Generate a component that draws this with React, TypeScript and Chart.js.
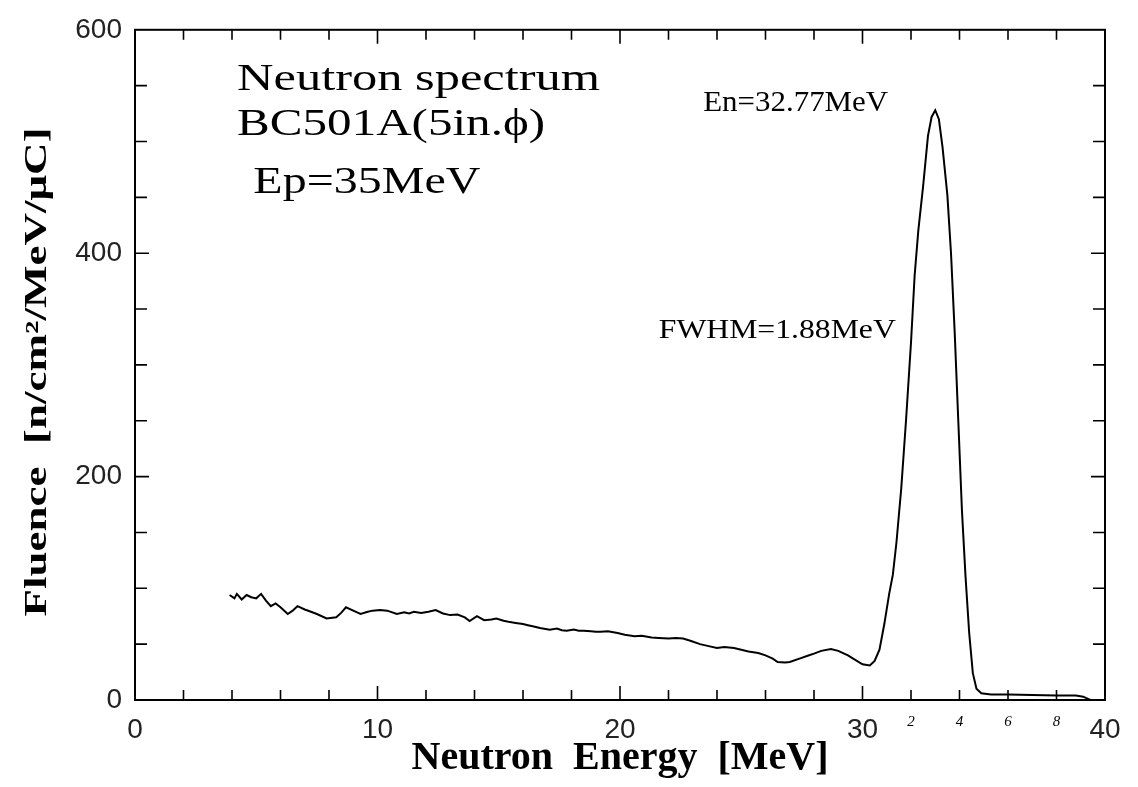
import React, { useEffect, useRef } from 'react';
import { Chart, registerables } from 'chart.js';

Chart.register(...registerables);

// ---- data ----
const energy = [
  3.9, 4.1, 4.2, 4.4, 4.6, 4.8, 5.0, 5.2, 5.4, 5.6, 5.8, 6.0, 6.3, 6.5, 6.7, 7.0, 7.2, 7.5, 7.9, 8.3,
  8.5, 8.7, 9.0, 9.3, 9.6, 9.8, 10.1, 10.4, 10.8, 11.1, 11.3, 11.5, 11.8, 12.1, 12.4, 12.7, 13.0, 13.3, 13.6, 13.8,
  14.1, 14.4, 14.7, 14.9, 15.2, 15.4, 15.7, 16.0, 16.2, 16.4, 16.7, 17.1, 17.4, 17.6, 17.8, 18.1, 18.3, 18.5, 18.8, 19.0,
  19.2, 19.5, 19.9, 20.2, 20.6, 20.9, 21.3, 21.6, 22.0, 22.3, 22.6, 22.9, 23.3, 23.7, 24.0, 24.3, 24.7, 25.0, 25.3, 25.7,
  26.0, 26.3, 26.5, 26.8, 27.0, 27.4, 27.8, 28.0, 28.3, 28.7, 29.0, 29.4, 29.7, 30.0, 30.3, 30.5, 30.7, 30.9, 31.1, 31.25,
  31.4, 31.6, 31.8, 32.0, 32.15, 32.3, 32.5, 32.7, 32.85, 33.0, 33.15, 33.3, 33.5, 33.65, 33.8, 33.95, 34.1, 34.25, 34.4, 34.55,
  34.7, 34.9, 35.3, 36.0, 37.0, 38.0, 38.8, 39.1, 39.3, 39.4,
];
const fluence = [
  94, 91, 95, 90, 94, 92, 91, 95, 89, 84, 86.5, 83, 77, 80, 84, 81, 79.5, 77, 73, 74,
  78, 83, 80, 77, 79, 80, 80.5, 80, 77, 78.5, 77.5, 79, 78, 79, 80.5, 77.5, 76, 76.5, 74, 70.7,
  75, 71.5, 72, 73, 71, 70, 69, 68, 67, 66, 64.5, 63, 64, 62.5, 62, 63, 62, 62, 61.5, 61,
  61, 61.5, 60, 58.5, 57, 57.5, 56, 55.5, 55, 55.5, 55, 53, 50, 48, 46.5, 47.5, 46.5, 45, 43.5, 42,
  40, 37, 34, 33.5, 34, 37, 40, 41.5, 44, 45.6, 44, 40, 36, 32, 31, 35, 45, 68, 95, 112,
  141, 190, 252, 320, 380, 420, 460, 505, 522, 528, 520, 495, 452, 400, 330, 250, 170, 110, 60, 24,
  10, 6, 5, 5, 4.5, 4, 4, 3, 1, 0,
];

const xTickLabels = [0, 10, 20, 30, 40];
const yTickLabels = [0, 200, 400, 600];
const xMinorTicks = [2, 4, 6, 8, 10, 12, 14, 16, 18, 20, 22, 24, 26, 28, 30, 32, 34, 36, 38];
const yMinorTicks = [50, 100, 150, 200, 250, 300, 350, 400, 450, 500, 550];

const xTitle = 'Neutron  Energy  [MeV]';
const yTitle = 'Fluence  [n/cm\u00B2/MeV/\u03BCC]';

const noteTexts = ['Neutron spectrum', 'BC501A(5in.\u03D5)', 'Ep=35MeV', 'En=32.77MeV', 'FWHM=1.88MeV'];
const noteX = [4.21, 4.21, 4.88, 23.43, 21.6];
const noteY = [546, 506, 454, 527.5, 324];
const noteSize = [38, 38, 38, 29, 27];
const noteWidth = [363, 308, 227, 185, 237];

const handNotes = ['2', '4', '6', '8'];
const handNoteX = [32, 34, 36, 38];

const SERIF = '"Liberation Serif", "Times New Roman", serif';
const SANS = '"Liberation Sans", Arial, sans-serif';

function stretchText(ctx: CanvasRenderingContext2D, text: string, x: number, y: number, font: string, width: number, rotate = false) {
  ctx.save();
  ctx.font = font;
  const w = ctx.measureText(text).width;
  const s = width / w;
  ctx.translate(x, y);
  if (rotate) ctx.rotate(-Math.PI / 2);
  ctx.scale(s, 1);
  ctx.fillText(text, 0, 0);
  ctx.restore();
}

const framePlugin = {
  id: 'frameTicks',
  afterDatasetsDraw(chart: any) {
    const { ctx, chartArea: a, scales } = chart;
    const xs = scales.x;
    const ys = scales.y;
    ctx.save();
    ctx.strokeStyle = '#000';
    ctx.lineWidth = 2;
    ctx.strokeRect(a.left, a.top, a.right - a.left, a.bottom - a.top);
    ctx.lineWidth = 1.6;
    ctx.beginPath();
    for (const v of xMinorTicks) {
      const px = xs.getPixelForValue(v);
      const len = v % 10 === 0 ? 14 : 10;
      ctx.moveTo(px, a.bottom);
      ctx.lineTo(px, a.bottom - len);
      ctx.moveTo(px, a.top);
      ctx.lineTo(px, a.top + len);
    }
    for (const v of yMinorTicks) {
      const py = ys.getPixelForValue(v);
      const len = v % 200 === 0 ? 14 : 12;
      ctx.moveTo(a.left, py);
      ctx.lineTo(a.left + len, py);
      ctx.moveTo(a.right, py);
      ctx.lineTo(a.right - len, py);
    }
    ctx.stroke();
    ctx.restore();
  },
  afterDraw(chart: any) {
    const { ctx, chartArea: a, scales } = chart;
    const xs = scales.x;
    const ys = scales.y;
    ctx.save();
    ctx.fillStyle = '#000';
    ctx.textAlign = 'left';
    ctx.textBaseline = 'alphabetic';
    noteTexts.forEach((t, i) => {
      stretchText(ctx, t, xs.getPixelForValue(noteX[i]), ys.getPixelForValue(noteY[i]), `${noteSize[i]}px ${SERIF}`, noteWidth[i]);
    });
    // handwritten marks under the axis
    ctx.textAlign = 'center';
    ctx.textBaseline = 'middle';
    ctx.font = `italic 15px ${SERIF}`;
    handNotes.forEach((t, i) => {
      ctx.fillText(t, xs.getPixelForValue(handNoteX[i]), a.bottom + 22);
    });
    // y axis title
    ctx.textAlign = 'center';
    ctx.textBaseline = 'middle';
    stretchText(ctx, yTitle, 38, 372, `bold 31px ${SERIF}`, 489, true);
    ctx.restore();
  },
};

export default function App() {
  const ref = useRef<HTMLCanvasElement | null>(null);
  useEffect(() => {
    document.body.style.margin = '0';
    const data = energy.map((e, i) => ({ x: e, y: fluence[i] }));
    const chart = new Chart(ref.current as HTMLCanvasElement, {
      type: 'line',
      data: {
        datasets: [
          {
            data,
            borderColor: '#000',
            borderWidth: 2,
            pointRadius: 0,
            tension: 0,
            fill: false,
          },
        ],
      },
      options: {
        animation: false,
        responsive: true,
        maintainAspectRatio: false,
        layout: { padding: { top: 21, right: 33, bottom: 0, left: 0 } },
        plugins: { legend: { display: false }, tooltip: { enabled: false } },
        scales: {
          x: {
            type: 'linear',
            min: 0,
            max: 40,
            afterBuildTicks: (s: any) => {
              s.ticks = xTickLabels.map((v) => ({ value: v }));
            },
            afterFit: (s: any) => {
              s.height = 87;
            },
            grid: { display: false, drawTicks: false },
            border: { display: false },
            ticks: {
              color: '#222',
              font: { family: SANS, size: 28 },
              padding: 13,
              maxRotation: 0,
              autoSkip: false,
            },
            title: {
              display: true,
              text: xTitle,
              color: '#000',
              font: { family: SERIF, size: 40, weight: 'bold' },
              padding: { top: 0, bottom: 4 },
            },
          },
          y: {
            type: 'linear',
            min: 0,
            max: 600,
            afterBuildTicks: (s: any) => {
              s.ticks = yTickLabels.map((v) => ({ value: v }));
            },
            afterFit: (s: any) => {
              s.width = 135;
            },
            grid: { display: false, drawTicks: false },
            border: { display: false },
            ticks: {
              color: '#222',
              font: { family: SANS, size: 28 },
              padding: 13,
            },
          },
        },
      },
      plugins: [framePlugin],
    });
    return () => chart.destroy();
  }, []);
  return (
    <div style={{ position: 'absolute', left: 0, top: 0, width: 1138, height: 787, background: '#fff' }}>
      <canvas ref={ref} />
    </div>
  );
}
